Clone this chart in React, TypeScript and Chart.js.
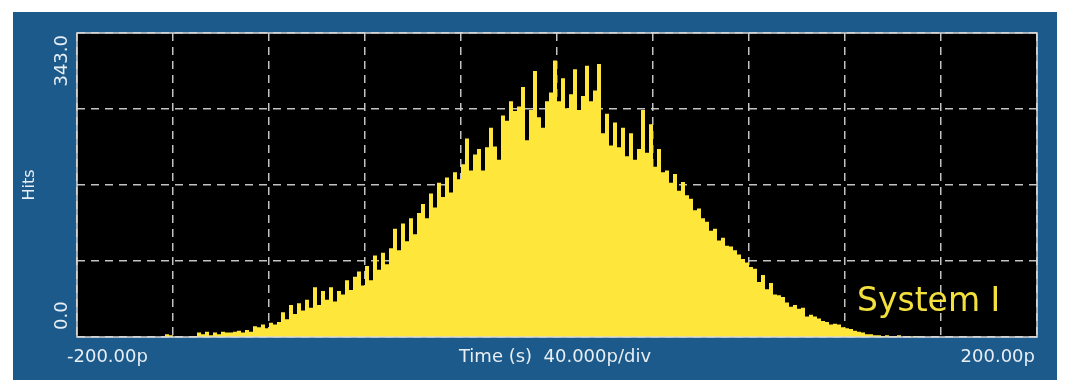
import { useEffect, useRef } from "react";
import { Chart, registerables } from "chart.js";

Chart.register(...registerables);

// Time axis (picoseconds) and histogram bins
const timeRange = [-200, 200];
const binCount = 240;

// Hits per bin, left to right
const leftTailHits = [
  0, 0, 0, 0, 0, 0, 0, 0, 0, 0,
  0, 0, 0, 0, 0, 0, 0, 0, 0, 0,
  0, 0, 3, 2, 0, 0, 0, 0, 0, 1,
  5, 3, 6, 2, 5, 3, 6, 5, 5, 6,
  7, 5, 8, 6, 12, 11, 14, 10, 16, 14,
];
const riseHits = [
  17, 28, 20, 36, 26, 38, 30, 42, 33, 56,
  36, 52, 42, 56, 40, 52, 48, 64, 53, 68,
  74, 58, 80, 64, 92, 76, 95, 82, 100, 122,
  98, 128, 108, 134, 116, 140, 150, 134, 162, 146,
  174, 158, 180, 163, 186, 178, 195, 224, 188, 206,
];
const peakHits = [
  212, 188, 214, 236, 215, 200, 250, 244, 266, 255,
  260, 282, 222, 256, 300, 248, 236, 266, 276, 312,
  266, 292, 258, 274, 302, 256, 272, 306, 266, 278,
  308, 230, 252, 216, 242, 214, 236, 204, 230, 200,
];
const fallHits = [
  212, 256, 208, 240, 192, 212, 186, 188, 174, 184,
  165, 175, 160, 156, 143, 145, 134, 130, 120, 122,
  109, 112, 103, 102, 98, 93, 88, 84, 79, 77,
  62, 70, 54, 61, 48, 47, 45, 39, 34, 36,
  32, 33, 23, 25, 23, 21, 18, 17, 14, 15,
];
const rightTailHits = [
  14, 11, 10, 9, 7, 6, 5, 3, 3, 2,
  2, 1, 2, 0, 1, 2, 0, 1, 0, 1,
  0, 0, 0, 0, 0, 0, 0, 0, 0, 0,
  0, 0, 0, 0, 0, 0, 0, 0, 0, 0,
  0, 0, 0, 0, 0, 0, 0, 0, 0, 0,
];

// Grid / tick positions
const xGridTicks = [-200, -160, -120, -80, -40, 0, 40, 80, 120, 160, 200];
const yGridTicks = [0, 85.75, 171.5, 257.25, 343];

// Texts
const yTopLabel = "343.0";
const yBottomLabel = "0.0";
const yAxisTitle = "Hits";
const xLeftLabel = "-200.00p";
const xRightLabel = "200.00p";
const xAxisTitle = "Time (s)  40.000p/div";
const seriesName = "System I";

const PANEL_BLUE = "#1b5a8a";
const HIST_YELLOW = "#ffe63b";
const LABEL_WHITE = "#e8eef4";
const FONT = '"DejaVu Sans", Verdana, sans-serif';

export default function App() {
  const canvasRef = useRef<HTMLCanvasElement | null>(null);

  useEffect(() => {
    const canvas = canvasRef.current;
    if (!canvas) return;

    const hits = [...leftTailHits, ...riseHits, ...peakHits, ...fallHits, ...rightTailHits];
    const binWidth = (timeRange[1] - timeRange[0]) / binCount;
    const points = hits.map((h, i) => ({ x: timeRange[0] + i * binWidth, y: h }));
    points.push({ x: timeRange[1], y: 0 });

    const scopePlugin = {
      id: "scopeFrame",
      beforeDraw(chart: any) {
        const { ctx, chartArea: a } = chart;
        ctx.save();
        ctx.fillStyle = "#ffffff";
        ctx.fillRect(0, 0, chart.width, chart.height);
        ctx.fillStyle = PANEL_BLUE;
        ctx.fillRect(13, 12, 1044, 368);
        ctx.fillStyle = "#000000";
        ctx.fillRect(a.left, a.top, a.right - a.left, a.bottom - a.top);
        ctx.restore();
      },
      afterDraw(chart: any) {
        const { ctx, chartArea: a } = chart;
        ctx.save();
        ctx.strokeStyle = "#d9d9d9";
        ctx.lineWidth = 1.5;
        ctx.setLineDash([]);
        ctx.strokeRect(a.left, a.top, a.right - a.left, a.bottom - a.top);

        // y labels (rotated)
        ctx.fillStyle = LABEL_WHITE;
        ctx.font = `18px ${FONT}`;
        ctx.textBaseline = "middle";
        ctx.save();
        ctx.translate(a.left - 15, a.top + 2);
        ctx.rotate(-Math.PI / 2);
        ctx.textAlign = "right";
        ctx.fillText(yTopLabel, 0, 0);
        ctx.restore();
        ctx.save();
        ctx.translate(a.left - 15, a.bottom - 7);
        ctx.rotate(-Math.PI / 2);
        ctx.textAlign = "left";
        ctx.fillText(yBottomLabel, 0, 0);
        ctx.restore();
        ctx.save();
        ctx.font = `16px ${FONT}`;
        ctx.translate(30, (a.top + a.bottom) / 2);
        ctx.rotate(-Math.PI / 2);
        ctx.textAlign = "center";
        ctx.fillText(yAxisTitle, 0, 0);
        ctx.restore();

        // x labels
        ctx.font = `18px ${FONT}`;
        ctx.textBaseline = "alphabetic";
        ctx.textAlign = "left";
        ctx.fillText(xLeftLabel, a.left - 10, a.bottom + 25);
        ctx.textAlign = "right";
        ctx.fillText(xRightLabel, a.right - 2, a.bottom + 25);
        ctx.textAlign = "center";
        ctx.fillText(xAxisTitle, (a.left + a.right) / 2 - 2, a.bottom + 25);

        // series name
        ctx.fillStyle = "#f3e03c";
        ctx.font = `33px ${FONT}`;
        ctx.textAlign = "left";
        ctx.fillText(seriesName, 857, 311);
        ctx.restore();
      },
    };

    const gridCommon = {
      display: true,
      color: "rgba(205,205,205,0.95)",
      lineWidth: 1.5,
      drawTicks: false,
      drawOnChartArea: true,
    };

    const chart = new Chart(canvas, {
      type: "line",
      data: {
        datasets: [
          {
            label: seriesName,
            data: points,
            stepped: true,
            fill: "origin",
            backgroundColor: HIST_YELLOW,
            borderColor: HIST_YELLOW,
            borderWidth: 0,
            pointRadius: 0,
          },
        ],
      },
      options: {
        animation: false,
        responsive: false,
        devicePixelRatio: 1,
        parsing: false,
        layout: { padding: { left: 77, top: 33, right: 29, bottom: 54 } },
        plugins: {
          legend: { display: false },
          tooltip: { enabled: false },
        },
        scales: {
          x: {
            type: "linear",
            min: timeRange[0],
            max: timeRange[1],
            afterBuildTicks: (scale: any) => {
              scale.ticks = xGridTicks.map((v) => ({ value: v }));
            },
            ticks: { display: false },
            grid: gridCommon,
            border: { display: false, dash: [8, 6] },
          },
          y: {
            type: "linear",
            min: 0,
            max: yGridTicks[yGridTicks.length - 1],
            afterBuildTicks: (scale: any) => {
              scale.ticks = yGridTicks.map((v) => ({ value: v }));
            },
            ticks: { display: false },
            grid: gridCommon,
            border: { display: false, dash: [8, 6] },
          },
        },
      },
      plugins: [scopePlugin],
    } as any);

    return () => chart.destroy();
  }, []);

  return (
    <canvas
      ref={canvasRef}
      width={1066}
      height={391}
      style={{ position: "fixed", left: 0, top: 0, width: 1066, height: 391 }}
    />
  );
}
